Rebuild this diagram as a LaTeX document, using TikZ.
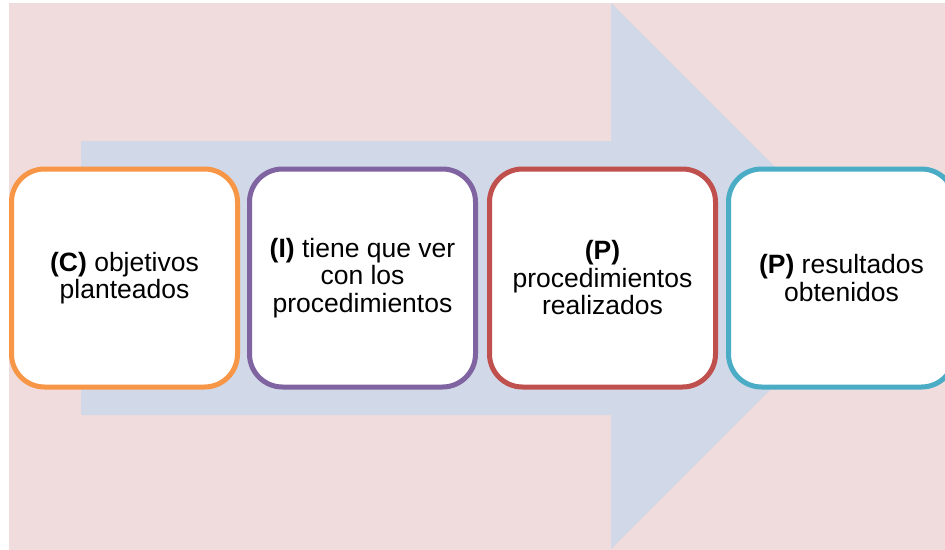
\documentclass[tikz,border=0pt]{standalone}
\usepackage{fontspec}
\setmainfont{Liberation Sans}
\definecolor{bgpink}{HTML}{F0DCDC}
\definecolor{arrowblue}{HTML}{D1D8E7}
\definecolor{boxorange}{HTML}{F79646}
\definecolor{boxpurple}{HTML}{8064A2}
\definecolor{boxred}{HTML}{C0504D}
\definecolor{boxteal}{HTML}{4BACC6}
\begin{document}
\begin{tikzpicture}[x=1pt,y=-1pt,
  box/.style={draw, line width=5pt, rounded corners=33pt, fill=white,
    minimum width=226pt, minimum height=218pt, inner sep=0pt, align=center,
    font=\fontsize{26.5}{27.5}\selectfont}]
\useasboundingbox (0,0) rectangle (945,549);
\clip (0,0) rectangle (945,549);
\fill[bgpink] (9,3) rectangle (946,550);
\fill[arrowblue] (81,141) -- (611,141) -- (611,3) -- (884,276) -- (611,549) -- (611,415) -- (81,415) -- cycle;
\node[box, draw=boxorange] (c) at (124.5,278) {\textbf{(C)} objetivos\\planteados};
\node[box, draw=boxpurple] (i) at (362.5,278) {\textbf{(I)} tiene que ver\\con los\\procedimientos};
\node[box, draw=boxred] (p1) at (602.5,278) {\textbf{(P)}\\procedimientos\\realizados};
\node[box, draw=boxteal] (p2) at (841.5,278) {\textbf{(P)} resultados\\obtenidos};
\end{tikzpicture}
\end{document}
